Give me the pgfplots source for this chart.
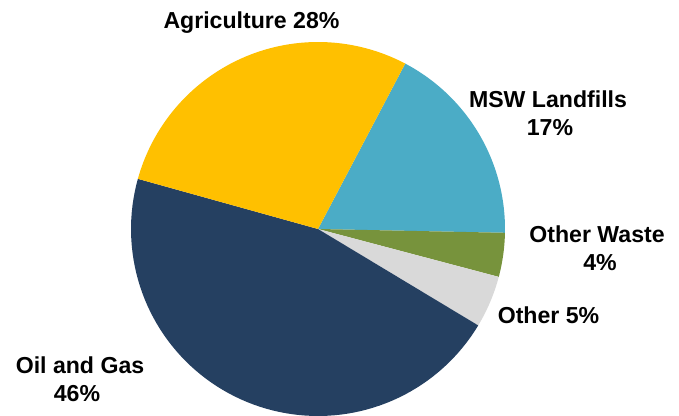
\documentclass[border=0pt]{standalone}
\usepackage{pgfplots}
\pgfplotsset{compat=1.18}
\usepackage{fontspec}
\setmainfont{Liberation Sans}
\definecolor{cagri}{HTML}{FFC000}
\definecolor{cmsw}{HTML}{4BACC6}
\definecolor{cwaste}{HTML}{77933C}
\definecolor{cother}{HTML}{D9D9D9}
\definecolor{coil}{HTML}{254061}
% shares in percent (clockwise from the start angle)
\def\pMSW{17.6}
\def\pWaste{3.8}
\def\pOther{4.5}
\def\pOil{45.7}
\def\pAgri{28.4}
\def\startang{62.2}
\begin{document}
\begin{tikzpicture}
\pgfmathsetmacro{\aA}{\startang}
\pgfmathsetmacro{\aB}{\aA-3.6*\pMSW}
\pgfmathsetmacro{\aC}{\aB-3.6*\pWaste}
\pgfmathsetmacro{\aD}{\aC-3.6*\pOther}
\pgfmathsetmacro{\aE}{\aD-3.6*\pOil}
\pgfmathsetmacro{\aF}{\aE-3.6*\pAgri}
\begin{axis}[
  scale only axis, width=679bp, height=416bp,
  xmin=0, xmax=679, ymin=0, ymax=416, y dir=reverse,
  hide axis, clip=false,
  every axis plot/.append style={line width=0pt, draw=none, samples=80, variable=\t},
]
\addplot[fill=cmsw, domain=\aB:\aA] ({318+187*cos(t)},{229-187*sin(t)}) -- (axis cs:318,229) -- cycle;
\addplot[fill=cwaste, domain=\aC:\aB] ({318+187*cos(t)},{229-187*sin(t)}) -- (axis cs:318,229) -- cycle;
\addplot[fill=cother, domain=\aD:\aC] ({318+187*cos(t)},{229-187*sin(t)}) -- (axis cs:318,229) -- cycle;
\addplot[fill=coil, domain=\aE:\aD] ({318+187*cos(t)},{229-187*sin(t)}) -- (axis cs:318,229) -- cycle;
\addplot[fill=cagri, domain=\aF:\aE] ({318+187*cos(t)},{229-187*sin(t)}) -- (axis cs:318,229) -- cycle;

\tikzset{lab/.style={anchor=base, inner sep=0pt, font=\fontsize{23.2}{27}\selectfont\bfseries}}
\node[lab] at (axis cs:251.5,29) {Agriculture 28\%};
\node[lab] at (axis cs:548,108) {MSW Landfills};
\node[lab] at (axis cs:550,135) {17\%};
\node[lab] at (axis cs:597,242) {Other Waste};
\node[lab] at (axis cs:600,270) {4\%};
\node[lab] at (axis cs:548.5,323) {Other 5\%};
\node[lab] at (axis cs:80,373) {Oil and Gas};
\node[lab] at (axis cs:77,401) {46\%};
\end{axis}
\pgfresetboundingbox
\path[use as bounding box] (current axis.south west) rectangle (current axis.north east);
\end{tikzpicture}
\end{document}
